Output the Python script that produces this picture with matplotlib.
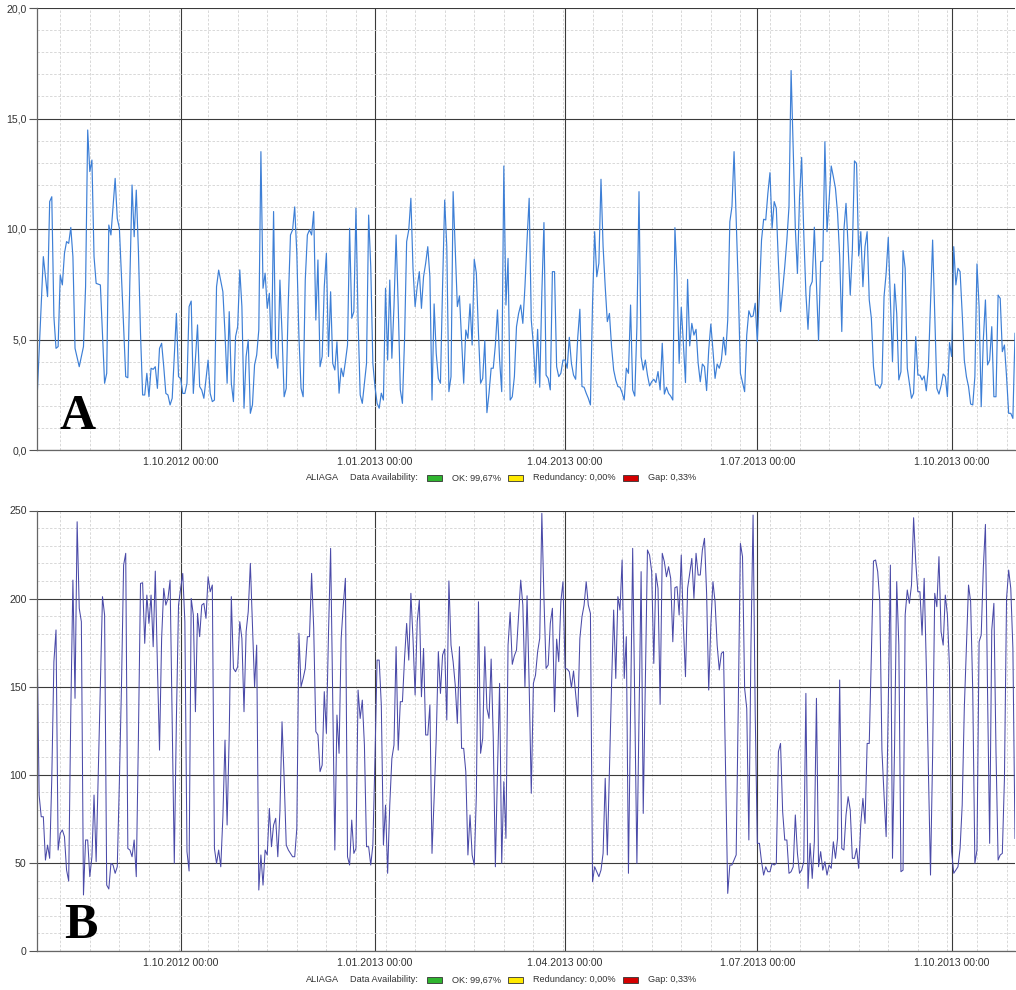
import pandas as pd
import matplotlib
matplotlib.use("Agg")
import matplotlib.pyplot as plt
import matplotlib.dates as mdates
from matplotlib.ticker import MultipleLocator, FuncFormatter, FixedLocator
from matplotlib.patches import Rectangle

plt.rcParams['font.family'] = ['Liberation Sans', 'DejaVu Sans']

start = pd.Timestamp("2012-07-25")
end = pd.Timestamp("2013-10-31")

# ---- panel A (0..20): first weeks read vertex by vertex, day offsets from start
a_days_early = [0, 3, 5, 6, 7, 8, 9, 10, 11, 12, 13, 14, 15, 16, 17, 18, 20, 22, 23, 24,
                25, 26, 27, 28, 30, 31, 32, 33, 34, 35, 36, 37, 38, 39, 40, 42, 43, 44, 45, 46,
                47, 48, 49, 50, 51, 52, 53, 54, 55, 56, 57, 58, 59, 60, 61, 62, 63, 64, 66, 67,
                68, 69, 70, 71, 72, 73, 74, 76, 77, 78, 79, 81, 82, 83, 84, 85, 86, 88, 89, 90,
                91, 92, 93]
a_vals_early = [2.26, 8.75, 6.94, 11.24, 11.46, 6.03, 4.6, 4.68, 7.92, 7.47,
                8.9, 9.43, 9.35, 10.07, 8.75, 4.6, 3.77, 4.68, 7.39, 14.48,
                12.6, 13.12, 8.75, 7.54, 7.47, 5.28, 3.02, 3.47, 10.18, 9.73,
                11.0, 12.29, 10.48, 10.03, 7.84, 3.32, 3.27, 7.84, 11.99, 9.65,
                11.76, 9.05, 5.28, 2.49, 2.49, 3.47, 2.41, 3.7, 3.65, 3.77,
                2.79, 4.6, 4.83, 3.77, 2.56, 2.49, 2.04, 2.34, 6.18, 3.32,
                3.24, 2.56, 2.56, 3.02, 6.49, 6.74, 2.56, 5.66, 2.87, 2.71,
                2.34, 4.07, 2.56, 2.19, 2.26, 7.39, 8.14, 7.16, 5.28, 3.02,
                6.26, 3.02, 2.19]
# daily values from 2012-10-27 to 2013-10-31
a_vals_daily = [
    5.13, 5.58, 8.15, 6.49, 1.89, 4.23, 4.98, 1.66, 2.04, 3.85,
    4.30, 5.43, 13.5, 7.32, 8.0, 6.41, 7.09, 4.15, 10.79, 4.38,
    3.7, 7.69, 5.28, 2.41, 2.79, 6.79, 9.73, 9.96, 11.0, 8.9,
    5.13, 2.79, 2.41, 7.69, 9.73, 9.96, 9.73, 10.79, 5.88, 8.6,
    3.77, 4.23, 7.39, 8.9, 4.23, 7.16, 3.92, 3.62, 4.9, 2.57,
    3.7, 3.32, 4.0, 4.75, 10.03, 5.96, 6.26, 10.94, 5.88, 2.49,
    2.11, 3.02, 3.92, 10.63, 8.3, 3.92, 2.87, 2.11, 1.89, 2.57,
    2.26, 7.32, 4.07, 7.69, 4.15, 6.49, 9.73, 6.56, 2.72, 2.11,
    4.98, 9.43, 9.96, 11.39, 8.22, 6.49, 7.39, 8.07, 6.41, 7.84,
    8.45, 9.2, 7.84,
    2.26, 6.61, 4.37, 3.24, 3.02, 7.39, 11.31, 9.2, 2.64, 3.32,
    11.69, 9.05, 6.49, 6.97, 4.98, 3.02, 5.43, 5.05, 6.61, 4.75,
    8.63, 8.0, 5.28, 3.02, 3.24, 4.95, 1.69, 2.57, 3.7, 3.7,
    4.75, 6.34, 4.07, 2.64, 12.85, 6.56, 8.67, 2.26, 2.41, 3.32,
    5.58, 6.18, 6.56, 5.73, 7.39, 9.5, 11.39, 5.88, 4.75, 3.02,
    5.46, 2.84, 7.09, 10.29, 3.39, 3.24, 2.72, 8.07, 8.07, 3.77,
    3.32, 3.47, 4.07, 4.07, 3.7, 5.1, 3.92, 3.39, 3.2, 5.1,
    6.37, 2.87, 2.84, 2.57, 2.34, 2.04, 6.64, 9.88, 7.84, 8.45,
    12.25, 9.2, 7.39, 5.81, 6.18, 4.68, 3.62, 3.17, 2.87, 2.84,
    2.59, 2.26,
    3.70, 3.47, 6.56, 2.72, 2.44, 5.58, 11.69, 4.22, 3.62, 4.07,
    3.39, 2.9, 3.09, 3.2, 3.05, 3.55, 2.72, 4.83, 2.53, 2.84,
    2.56, 2.44, 2.26, 10.06, 7.84, 3.92, 6.46, 4.83, 3.05, 7.72,
    4.71, 5.73, 5.2, 5.46, 3.92, 3.09, 3.89, 3.77, 2.69, 4.52,
    5.7, 4.52, 3.24, 3.89, 3.7, 4.07, 5.1, 4.3, 5.88, 10.33,
    11.01, 13.5, 10.41, 7.39, 3.47, 3.05, 2.64, 5.2, 6.3, 6.03,
    6.06, 6.64, 4.9, 7.09, 9.5, 10.44, 10.41, 11.61, 12.55, 10.03,
    11.24, 10.94, 8.45, 6.26, 7.24, 8.3, 9.5, 11.01, 17.17, 13.65,
    10.03, 7.99, 11.46, 13.24, 9.8, 7.09, 5.46, 7.39, 7.62, 10.08,
    7.54, 4.95,
    8.52, 8.55, 13.95, 9.88, 11.31, 12.85, 12.37, 11.84, 10.71, 8.75,
    5.36, 9.96, 11.16, 9.2, 7.01, 9.05, 13.08, 12.97, 8.78, 9.88,
    7.39, 9.2, 9.88, 6.79, 5.96, 3.77, 2.94, 2.94, 2.79, 3.02,
    6.94, 8.0, 9.62, 6.79, 4.0, 7.51, 6.18, 3.17, 3.54, 9.02,
    8.22, 3.7, 3.02, 2.34, 2.57, 5.13, 3.39, 3.39, 3.17, 3.35,
    2.68, 3.77, 6.71, 9.5, 6.18, 2.79, 2.53, 2.9, 3.44, 3.32,
    2.41, 4.86, 4.23, 9.2, 7.47, 8.22, 8.07, 6.18, 4.07, 3.32,
    2.87, 2.08, 2.04, 3.32, 8.42, 6.49, 1.96, 4.98, 6.79, 3.85,
    4.07, 5.58, 2.41, 2.41, 7.01, 6.86, 4.45, 4.75, 3.32, 1.66,
    1.66, 1.43, 5.28]

# ---- panel B (0..250): daily values, a few days not read
b_dates = (pd.date_range("2012-07-25", "2012-12-11").tolist()
           + pd.date_range("2012-12-13", "2013-05-01").tolist()
           + pd.to_datetime(["2013-05-03", "2013-05-05", "2013-05-07", "2013-05-08"]).tolist()
           + pd.date_range("2013-05-10", "2013-10-31").tolist())
b_vals = [
    182.2, 88.5, 76.2, 76.2, 51.6, 60.1, 52.6, 98.0, 164.2, 182.2,
    57.3, 66.8, 68.7, 64.9, 45.9, 39.7, 135.8, 210.5, 143.4, 243.6,
    194.5, 186.9, 31.8, 63.0, 63.0, 42.2, 53.5, 88.5, 50.7, 101.8,
    150.9, 201.1, 190.7, 37.4, 35.2, 49.7, 48.8, 44.1, 47.8, 96.1,
    150.9, 219.0, 225.7, 58.2, 57.3, 53.5, 63.0, 42.2, 120.7, 208.6,
    209.0, 174.6, 202.0, 185.9, 202.0, 172.7, 215.6, 162.3, 114.0, 177.4,
    205.8, 196.3, 200.1, 210.5, 130.1, 49.7, 132.0, 196.3, 205.8, 214.3,
    186.9, 56.4, 45.4, 200.1, 190.7, 135.8, 191.6, 178.4, 196.3, 197.3,
    188.8, 212.4, 203.9, 207.7, 58.2, 49.7, 57.3, 47.8, 76.2, 119.7,
    71.5, 122.6, 201.1, 160.4,
    158.5, 161.3, 186.9, 177.4, 135.8, 181.2, 192.6, 220.0, 185.0, 150.0,
    173.6, 34.6, 54.5, 37.4, 57.3, 54.5, 80.9, 59.2, 71.5, 75.3,
    53.5, 79.1, 130.1, 98.0, 60.1, 57.3, 55.4, 53.5, 53.5, 69.6,
    180.3, 150.0, 154.7, 160.4, 178.4, 178.4, 214.3, 183.1, 124.5, 122.6,
    101.8, 105.5, 147.2, 123.5, 180.3, 228.5,
    57.3, 133.9, 112.2, 177.4, 196.3, 211.5, 53.5, 48.8, 74.3, 55.4,
    58.2, 148.1, 132.0, 142.4, 116.9, 59.2, 59.2, 48.8, 60.1, 109.3,
    165.1, 165.1, 139.6, 60.1, 82.8, 44.1, 82.8, 109.3, 116.9, 172.7,
    114.0, 141.5, 141.5, 166.1, 185.9, 165.1, 203.0, 177.4, 145.3, 186.9,
    199.2, 144.3, 171.7, 122.6, 122.6, 139.6,
    55.4, 86.6, 120.7, 169.9, 146.2, 168.0, 171.4, 131.1, 210.0, 173.6,
    164.2, 150.9, 129.2, 172.7, 115.0, 115.0, 101.8, 54.5, 77.2, 54.5,
    48.8, 88.5, 198.2, 112.2, 120.7, 172.7, 137.7, 132.0, 165.7, 120.7,
    47.8, 101.8, 151.9, 49.7, 96.1, 63.9, 173.6, 192.2, 162.7, 167.6,
    170.8, 190.7, 210.5, 196.3, 150.0, 201.6, 150.9, 89.5, 151.9, 156.6,
    169.9, 177.4, 248.4, 200.1, 160.4, 162.3, 185.9, 194.5, 135.8, 177.0,
    164.2, 198.2, 209.6, 160.4, 160.0, 158.5, 149.4, 158.9, 146.2, 133.0,
    177.4, 189.7, 196.3, 209.6, 196.3, 191.6, 39.3, 47.8, 45.0, 42.2,
    45.9, 55.4, 98.0, 54.5, 101.8, 150.9, 193.5, 154.7, 201.1, 193.5,
    221.9, 154.7,
    178.4, 44.1,
    228.5, 49.7, 215.3, 78.1,
    227.6, 224.7, 215.3, 163.2, 214.3, 205.8, 140.0, 225.7, 220.9, 212.4,
    218.1, 211.5, 175.5, 206.2, 206.8, 190.7, 224.7, 185.0, 155.7, 205.8,
    214.3, 222.8, 200.1, 225.7, 213.4, 213.4, 227.6, 234.2, 203.0, 148.1,
    185.0, 209.6, 198.2, 173.6, 159.5, 168.9, 169.9, 101.8, 32.7, 48.8,
    48.8, 51.6, 54.5, 139.6, 231.3, 223.8, 149.1, 137.7, 63.0, 173.6,
    247.4, 135.8, 61.1, 61.1, 50.7, 43.1, 47.8, 45.0, 45.0, 49.7,
    48.8, 49.7, 113.1, 117.8, 79.1, 63.0, 63.0, 44.1, 45.0, 47.8,
    77.2, 55.4, 44.1, 45.9, 50.7, 146.2, 35.5, 61.1, 41.2, 62.0,
    143.4,
    47.8, 56.4, 45.9, 50.7, 43.1, 48.8, 46.9, 62.0, 52.6, 63.9,
    153.8, 58.2, 57.3, 77.2, 87.6, 80.0, 52.6, 52.6, 58.2, 46.9,
    72.4, 86.6, 72.4, 117.8, 117.8, 168.0, 221.3, 221.9, 215.3, 198.2,
    114.0, 88.5, 64.9, 139.6, 219.0, 52.6, 116.9, 209.6, 173.6, 45.0,
    45.9, 190.7, 204.9, 197.3, 207.7, 245.9, 220.9, 203.9, 203.9, 179.3,
    211.5, 162.3, 101.8, 43.1, 111.2, 203.0, 195.4, 223.8, 181.2, 173.6,
    202.0, 190.7, 160.4, 56.4, 44.1, 45.9, 47.8, 58.2, 82.8, 137.7,
    173.6, 207.7, 198.2, 147.2, 49.7, 57.3, 175.5, 179.3, 217.2, 242.1,
    147.2, 61.1, 182.2, 197.3, 113.1, 51.6, 54.5, 55.4, 98.0, 200.1,
    216.2, 205.8, 171.7, 63.9]

station = "ALIAGA"
availability = [("OK: 99,67%", "#2fb52f"), ("Redundancy: 0,00%", "#ffea00"), ("Gap: 0,33%", "#d40000")]

a_dates = (list(start + pd.to_timedelta(a_days_early, unit="D"))
           + pd.date_range("2012-10-27", "2013-10-31").tolist())
a_vals = a_vals_early + a_vals_daily

W, H = 1016, 990
fig = plt.figure(figsize=(W / 100, H / 100), dpi=100)
fig.patch.set_facecolor("white")

ax_a = fig.add_axes([37 / W, 1 - 450 / H, 978 / W, 442 / H])
ax_b = fig.add_axes([37 / W, 1 - 951 / H, 978 / W, 440.5 / H])

ax_a.plot(a_dates, a_vals, color="#3d7fd6", lw=0.85)
ax_b.plot(b_dates, b_vals, color="#4a4aa8", lw=0.75)


def date_label(x, pos):
    d = mdates.num2date(x)
    return f"{d.day}.{d.month:02d}.{d.year} 00:00"


minor_x = mdates.date2num(pd.date_range("2012-08-05", "2013-10-31", freq="14D"))

for ax, ymax, ymaj, ymin, fmt in [(ax_a, 20, 5, 1, lambda v, p: f"{v:.1f}".replace(".", ",")),
                                  (ax_b, 250, 50, 10, lambda v, p: f"{v:.0f}")]:
    ax.set_xlim(start, end)
    ax.set_ylim(0, ymax)
    ax.xaxis.set_major_locator(mdates.MonthLocator(bymonth=[1, 4, 7, 10]))
    ax.xaxis.set_major_formatter(FuncFormatter(date_label))
    ax.xaxis.set_minor_locator(FixedLocator(minor_x))
    ax.yaxis.set_major_locator(MultipleLocator(ymaj))
    ax.yaxis.set_minor_locator(MultipleLocator(ymin))
    ax.yaxis.set_major_formatter(FuncFormatter(fmt))
    ax.grid(which="major", color="#3a3a3a", lw=0.8)
    ax.grid(which="minor", color="#d2d2d2", lw=0.6, ls=(0, (3, 2)))
    ax.set_axisbelow(True)
    ax.tick_params(which="minor", length=0)
    ax.tick_params(axis="y", which="major", length=6, width=0.8, color="#555555",
                   labelsize=7.6, labelcolor="#333333", pad=1.5)
    ax.tick_params(axis="x", which="major", length=0, labelsize=7.6,
                   labelcolor="#333333", pad=5)
    for s in ["top", "right"]:
        ax.spines[s].set_visible(False)
    for s in ["left", "bottom"]:
        ax.spines[s].set_color("#666666")
        ax.spines[s].set_linewidth(0.9)


def legend_row(yc):
    y = 1 - yc / H
    kw = dict(fontsize=6.6, va="center", ha="left", color="#333333")
    fig.text(306 / W, y, station, **kw)
    fig.text(350 / W, y, "Data Availability:", **kw)
    for (label, col), x0 in zip(availability, [427, 508, 623]):
        fig.patches.append(Rectangle((x0 / W, y - 3 / H), 15 / W, 6 / H, transform=fig.transFigure,
                                     facecolor=col, edgecolor="#333333", lw=0.6))
        fig.text((x0 + 25) / W, y, label, **kw)


legend_row(478)
legend_row(980)

fig.text(59 / W, 1 - 429 / H, "A", fontsize=36, fontweight="bold", family="Liberation Serif",
         ha="left", va="baseline", color="black")
fig.text(64 / W, 1 - 938 / H, "B", fontsize=36, fontweight="bold", family="Liberation Serif",
         ha="left", va="baseline", color="black")

fig.savefig("out.png", dpi=100, facecolor="white")
